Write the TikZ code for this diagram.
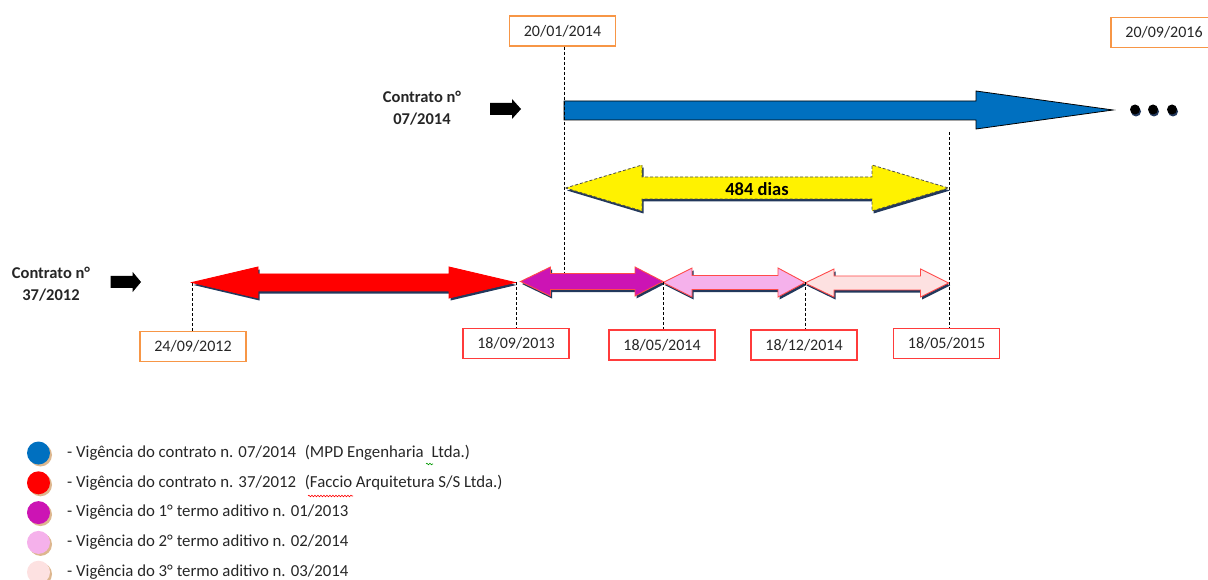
\documentclass[tikz,border=0pt]{standalone}
\usepackage{fontspec}
\setmainfont{Carlito}
\usepackage{tikz}
\usetikzlibrary{arrows.meta,calc,positioning,decorations.pathmorphing}
\definecolor{vigBlue}{HTML}{0070C0}
\definecolor{vigRed}{HTML}{FF0000}
\definecolor{vigMagenta}{HTML}{CC14B4}
\definecolor{vigPink}{HTML}{F5B1EB}
\definecolor{vigRose}{HTML}{FDE1E1}
\definecolor{boxOrange}{HTML}{F79646}
\definecolor{boxRed}{HTML}{FF3B3B}
\definecolor{edgeRed}{HTML}{FF4A4A}
\definecolor{shadeNavy}{HTML}{22385C}
\definecolor{shadeTan}{HTML}{DDB78F}
\definecolor{textGray}{HTML}{262626}

\tikzset{
  datebox/.style={draw=#1,line width=1.3pt,fill=white,minimum width=106pt,
    minimum height=30pt,inner sep=0pt,text=textGray,font=\fontsize{16}{18}\selectfont},
  guide/.style={dash pattern=on 3pt off 2pt,line width=0.9pt},
  contrato/.style={align=center,font=\bfseries\fontsize{16.5}{22}\selectfont,text=textGray},
  legtext/.style={anchor=west,inner sep=0pt,text=textGray,font=\fontsize{16.8}{18}\selectfont}
}

\begin{document}
\begin{tikzpicture}[x=1pt,y=-1pt,>=Latex]
    \useasboundingbox (0,0) rectangle (1208,580);

    % contrato 07/2014
    \node[contrato] (c07) at (422,108) {Contrato n°\\07/2014};
    \fill (490,103)--(512,103)--(512,99)--(521,109)--(512,119)--(512,115)--(490,115)--cycle;
    \draw[fill=vigBlue,line width=0.8pt]
      (564,101)--(976,101)--(976,91)--(1113,110)--(976,129)--(976,120)--(564,120)--cycle;
    \foreach \x in {1135,1153,1172} {
      \fill[shadeNavy] (\x+1,111.5) circle (5);
      \fill (\x,109.5) circle (5);
    }

    % 484 dias
    \begin{scope}[shift={(1.5,2.5)}]
      \fill[shadeNavy] (565.5,188)--(642,165)--(642,177)--(872,177)--(872,165)--(948.5,188)
        --(872,211)--(872,199)--(642,199)--(642,211)--cycle;
    \end{scope}
    \draw[fill=yellow,draw=black!70,guide,line width=0.8pt]
      (565.5,188)--(642,165)--(642,177)--(872,177)--(872,165)--(948.5,188)
      --(872,211)--(872,199)--(642,199)--(642,211)--cycle;
    \node[font=\bfseries\fontsize{18.5}{20}\selectfont] (dias) at (757,189) {484 dias};

    % contrato 37/2012
    \node[contrato] (c37) at (51,284) {Contrato n°\\37/2012};
    \fill (110.7,276)--(132.7,276)--(132.7,272)--(141,282)--(132.7,292)--(132.7,288)--(110.7,288)--cycle;

    \foreach \l/\r/\y/\hl/\hr/\hh/\sh/\col/\edge in {
        192/515/282.5/66/66/15.5/8.5/vigRed/vigRed,
        520.5/663/281.5/30/28/14.5/8/vigMagenta/edgeRed,
        663/805/282.5/29/27/14.5/7/vigPink/edgeRed,
        805/948.5/283/29/28/14/7/vigRose/edgeRed} {
      \fill[shadeNavy,shift={(1.5,2.5)}] (\l,\y)--++(\hl,-\hh)--++(0,\hh-\sh)--(\r-\hr,\y-\sh)
        --++(0,\sh-\hh)--(\r,\y)--++(-\hr,\hh)--++(0,\sh-\hh)--(\l+\hl,\y+\sh)--++(0,\hh-\sh)--cycle;
      \draw[fill=\col,draw=\edge,line width=0.9pt] (\l,\y)--++(\hl,-\hh)--++(0,\hh-\sh)--(\r-\hr,\y-\sh)
        --++(0,\sh-\hh)--(\r,\y)--++(-\hr,\hh)--++(0,\sh-\hh)--(\l+\hl,\y+\sh)--++(0,\hh-\sh)--cycle;
    }

    % datas
    \node[datebox=boxOrange] (d200114) at (562.5,31) {20/01/2014};
    \node[datebox=boxOrange] (d200916) at (1164,32.5) {20/09/2016};
    \node[datebox=boxOrange] (d240912) at (193,346.5) {24/09/2012};
    \node[datebox=boxRed] (d180913) at (516,343.5) {18/09/2013};
    \node[datebox=boxRed] (d180514) at (662,345) {18/05/2014};
    \node[datebox=boxRed] (d181214) at (804,345) {18/12/2014};
    \node[datebox=boxRed] (d180515) at (946.5,343.3) {18/05/2015};

    \coordinate (tA) at (192,283);
    \coordinate (tB) at (516.5,282);
    \coordinate (tC) at (564,273);
    \coordinate (tD) at (663,282);
    \coordinate (tE) at (805,282.5);
    \coordinate (tF) at (949,132);
    \draw[guide] (d200114.south -| tC)--(tC);
    \draw[guide] (tA)--(tA |- d240912.north);
    \draw[guide] (tB)--(tB |- d180913.north);
    \draw[guide] (tD)--(tD |- d180514.north);
    \draw[guide] (tE)--(tE |- d181214.north);
    \draw[guide] (tF)--(tF |- d180515.north);

    % legenda
    \foreach \col/\txt [count=\i] in {
        vigBlue/{- Vigência do contrato n. 07/2014\hspace{5pt} (MPD Engenharia\hspace{4pt} Ltda.)},
        vigRed/{- Vigência do contrato n. 37/2012\hspace{5pt} (Faccio Arquitetura S/S Ltda.)},
        vigMagenta/{- Vigência do 1° termo aditivo n. 01/2013},
        vigPink/{- Vigência do 2° termo aditivo n. 02/2014},
        vigRose/{- Vigência do 3° termo aditivo n. 03/2014}} {
      \fill[shadeTan] (40.5,453+29.8*\i-29.8+2) circle (11.5);
      \fill[\col] (38.5,453+29.8*\i-29.8) circle (11.5);
      \node[legtext] (leg\i) at (67,453+29.8*\i-29.8) {\txt};
    }
    \draw[red,line width=0.6pt,decorate,decoration={snake,amplitude=0.8pt,segment length=3pt}]
      (308,496)--(353,496);
    \draw[green!60!black,line width=0.6pt,decorate,decoration={snake,amplitude=0.8pt,segment length=3pt}]
      (426,464)--(433,464);
\end{tikzpicture}
\end{document}
